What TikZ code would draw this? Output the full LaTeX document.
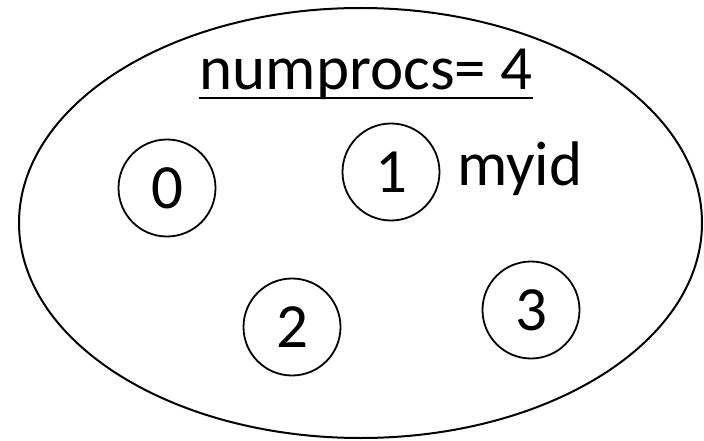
\documentclass[tikz,border=0pt]{standalone}
\usepackage{fontspec}
\setmainfont{Carlito}
\usetikzlibrary{shapes.geometric}
\begin{document}
\begin{tikzpicture}[x=1pt,y=-1pt,
  bigtext/.style={font=\fontsize{63}{70}\selectfont, inner sep=0pt},
  proc/.style={circle, draw, line width=1.8pt, minimum size=97pt, inner sep=0pt, font=\fontsize{63}{70}\selectfont}]
\useasboundingbox (0,0) rectangle (704,441);
\node[draw, ellipse, line width=2pt, minimum width=683pt, minimum height=430pt, inner sep=0pt] (world) at (360.5,223) {};
\node[bigtext, anchor=base] (title) at (366,90) {numprocs= 4};
\draw[line width=2.4pt] ([yshift=-8pt]title.base west) -- ([yshift=-8pt]title.base east);
\node[proc] (p0) at (167,188) {0};
\node[proc] (p1) at (391,172) {1};
\node[proc] (p2) at (292,327) {2};
\node[proc] (p3) at (531,310) {3};
\node[bigtext, anchor=base west] (myid) at (457,185) {myid};
\end{tikzpicture}
\end{document}
